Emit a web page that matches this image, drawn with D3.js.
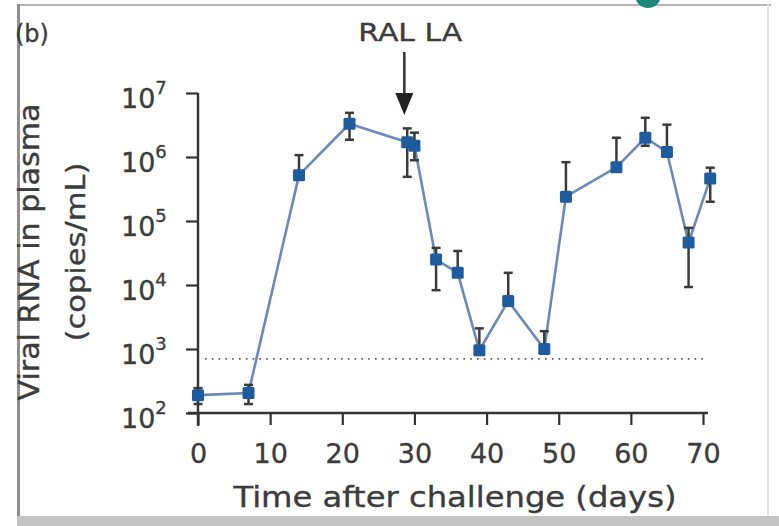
<!DOCTYPE html>
<html>
<head>
<meta charset="utf-8">
<script src="https://cdn.jsdelivr.net/npm/d3@7"></script>
<style>
  html, body { margin: 0; padding: 0; background: #fff; }
  svg { display: block; }
  text { font-family: "DejaVu Sans", "Noto Sans", sans-serif; fill: #3c3c3c; stroke: #3c3c3c; stroke-width: 0.35px; }
</style>
</head>
<body>
<svg id="chart" width="779" height="526"></svg>
<script>
// Plasma viral load after challenge (geometric mean with error bars)
const days      = [0, 7, 14, 21, 29, 30, 33, 36, 39, 43, 48, 51, 58, 62, 65, 68, 71];
const viralLoad = [190, 205, 5.2e5, 3.3e6, 1.7e6, 1.5e6, 2.5e4, 1.55e4, 960, 5.6e3, 1.0e3, 2.4e5, 6.9e5, 2.0e6, 1.2e6, 4.6e4, 4.6e5];
const errUpper  = [245, 275, 1.07e6, 4.9e6, 2.8e6, 2.4e6, 3.8e4, 3.4e4, 2.1e3, 1.55e4, 1.9e3, 8.3e5, 2.0e6, 4.1e6, 3.2e6, 7.8e4, 6.8e5];
const errLower  = [138, 138, 5.2e5, 1.86e6, 4.9e5, 8.9e5, 8.3e3, 1.55e4, 960, 5.6e3, 1.0e3, 2.4e5, 6.9e5, 1.5e6, 1.2e6, 9.3e3, 2.0e5];
const xTicks    = [0, 10, 20, 30, 40, 50, 60, 70];
const yExponents = [2, 3, 4, 5, 6, 7];
const detectionLimit = 700;
const treatmentDay = 28.6;
const treatmentLabel = "RAL LA";
const panelLabel = "(b)";
const xTitle = "Time after challenge (days)";
const yTitle1 = "Viral RNA in plasma";
const yTitle2 = "(copies/mL)";

const svg = d3.select("#chart");

// Frame of the panel
svg.append("rect").attr("x", 17).attr("y", 4).attr("width", 754).attr("height", 2).attr("fill", "#b5b5b5");
svg.append("rect").attr("x", 17).attr("y", 4).attr("width", 3).attr("height", 522).attr("fill", "#8f8f8f");
svg.append("rect").attr("x", 767).attr("y", 4).attr("width", 2).attr("height", 512).attr("fill", "#e2e2e2");
svg.append("rect").attr("x", 17).attr("y", 516).attr("width", 762).attr("height", 10).attr("fill", "#c4c4c4");
svg.append("circle").attr("cx", 648).attr("cy", -5).attr("r", 13).attr("fill", "#1b8a78");

const x = d3.scaleLinear().domain([0, 70]).range([198, 703]);
const y = d3.scaleLog().domain([1e2, 1e7]).range([413, 93]);

const axisColor = "#333";

// X axis
const xAxis = svg.append("g").attr("transform", `translate(0,${y(1e2)})`)
  .call(d3.axisBottom(x).tickValues(xTicks).tickSize(12).tickSizeOuter(0));
xAxis.select(".domain").remove();
xAxis.selectAll(".tick line").attr("stroke", axisColor).attr("stroke-width", 2.2);
xAxis.selectAll(".tick text").attr("y", 50).attr("dy", 0)
  .style("font-size", "27px").style("font-family", "DejaVu Sans").attr("fill", "#3c3c3c");
svg.append("line").attr("x1", x(0) - 10).attr("x2", x(70) + 5)
  .attr("y1", y(1e2)).attr("y2", y(1e2)).attr("stroke", axisColor).attr("stroke-width", 2.4);

// Y axis
const yAxis = svg.append("g").attr("transform", `translate(${x(0)},0)`)
  .call(d3.axisLeft(y).tickValues(yExponents.map(e => Math.pow(10, e))).tickSize(12).tickSizeOuter(0).tickFormat(() => ""));
yAxis.select(".domain").remove();
yAxis.selectAll(".tick line").attr("stroke", axisColor).attr("stroke-width", 2.2);
svg.append("line").attr("x1", x(0)).attr("x2", x(0))
  .attr("y1", y(1e7)).attr("y2", y(1e2) + 13).attr("stroke", axisColor).attr("stroke-width", 2.4);

// Power-of-ten tick labels
yExponents.forEach(e => {
  const t = svg.append("text").attr("x", 121).attr("y", y(Math.pow(10, e)) + 15)
    .style("font-size", "27px");
  t.append("tspan").text("10");
  t.append("tspan").attr("dy", -14).style("font-size", "18px").text(e);
});

// Axis titles
svg.append("text").attr("x", 455).attr("y", 507).attr("text-anchor", "middle")
  .style("font-size", "28px").attr("textLength", 443).attr("lengthAdjust", "spacingAndGlyphs").text(xTitle);
svg.append("text").attr("transform", "translate(39,252) rotate(-90)").attr("text-anchor", "middle")
  .style("font-size", "28px").attr("textLength", 297).attr("lengthAdjust", "spacingAndGlyphs").text(yTitle1);
svg.append("text").attr("transform", "translate(85,252) rotate(-90)").attr("text-anchor", "middle")
  .style("font-size", "27px").attr("textLength", 179).attr("lengthAdjust", "spacingAndGlyphs").text(yTitle2);

// Panel label
svg.append("text").attr("x", 15).attr("y", 42).style("font-size", "24px").text(panelLabel);

// Treatment arrow
const ax = x(treatmentDay);
svg.append("text").attr("x", ax + 6).attr("y", 41).attr("text-anchor", "middle")
  .style("font-size", "25px").attr("textLength", 104).attr("lengthAdjust", "spacingAndGlyphs").text(treatmentLabel);
svg.append("line").attr("x1", ax).attr("x2", ax).attr("y1", 52).attr("y2", 96)
  .attr("stroke", "#333").attr("stroke-width", 2.5);
svg.append("path").attr("d", `M${ax - 9},93 L${ax + 9},93 L${ax},115 Z`).attr("fill", "#222");

// Detection limit
svg.append("line").attr("x1", x(0) + 7).attr("x2", x(70) + 3)
  .attr("y1", y(detectionLimit)).attr("y2", y(detectionLimit))
  .attr("stroke", "#555").attr("stroke-width", 1.6).attr("stroke-dasharray", "1.6,5.2");

const pts = days.map((d, i) => ({ d, v: viralLoad[i], hi: errUpper[i], lo: errLower[i] }));

// Connecting line
svg.append("path").datum(pts)
  .attr("d", d3.line().x(p => x(p.d)).y(p => y(p.v)))
  .attr("fill", "none").attr("stroke", "#6a88b8").attr("stroke-width", 2.6);

// Error bars
const eb = svg.append("g").attr("stroke", "#3a3a3a").attr("stroke-width", 2.5);
pts.forEach(p => {
  const cx = x(p.d);
  eb.append("line").attr("x1", cx).attr("x2", cx).attr("y1", y(p.hi)).attr("y2", y(p.lo));
  eb.append("line").attr("x1", cx - 4.5).attr("x2", cx + 4.5).attr("y1", y(p.hi)).attr("y2", y(p.hi));
  if (p.lo < p.v) {
    eb.append("line").attr("x1", cx - 4.5).attr("x2", cx + 4.5).attr("y1", y(p.lo)).attr("y2", y(p.lo));
  }
});

// Markers
const size = 12;
svg.append("g").selectAll("rect").data(pts).join("rect")
  .attr("x", p => x(p.d) - size / 2).attr("y", p => y(p.v) - size / 2)
  .attr("width", size).attr("height", size).attr("rx", 1.5)
  .attr("fill", "#1f5c9d");
</script>
</body>
</html>
